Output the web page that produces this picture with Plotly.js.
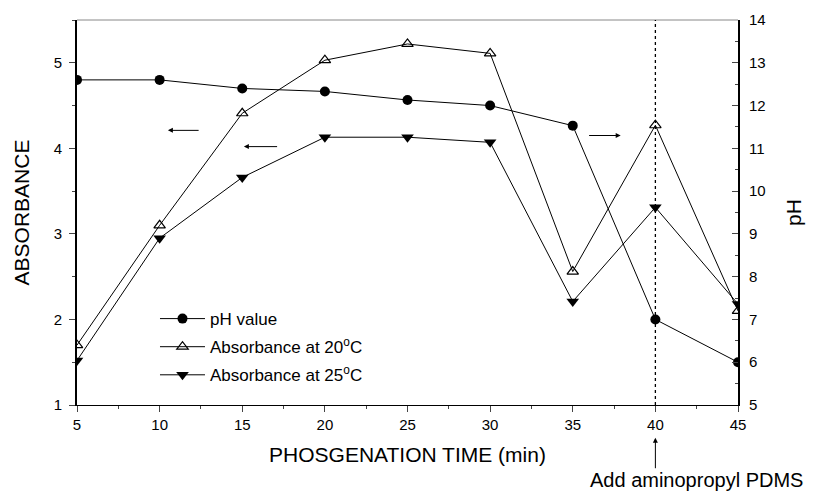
<!DOCTYPE html>
<html>
<head>
<meta charset="utf-8">
<script src="https://cdn.plot.ly/plotly-3.0.1.min.js"></script>
<style>
  html, body { margin: 0; padding: 0; background: #fff; }
  #chart { width: 813px; height: 494px; }
</style>
</head>
<body>
<div id="chart"></div>
<script>
// Phosgenation time (min)
const timeMin = [5, 10, 15, 20, 25, 30, 35, 40, 45];
// pH of the reaction mixture (right axis)
const phValue = [12.6, 12.6, 12.4, 12.33, 12.13, 12.0, 11.53, 7.0, 6.0];
// Absorbance readings (left axis)
const abs20C = [1.7, 3.1, 4.41, 5.03, 5.22, 5.11, 2.56, 4.27, 2.1];
const abs25C = [1.52, 2.95, 3.66, 4.13, 4.13, 4.07, 2.21, 3.31, 2.18];

const xTicks = [5, 10, 15, 20, 25, 30, 35, 40, 45];
const leftTicks = [1, 2, 3, 4, 5];
const rightTicks = [5, 6, 7, 8, 9, 10, 11, 12, 13, 14];

const FONT = "Liberation Sans, Arial, sans-serif";
const lineStyle = { color: "#000", width: 1 };

const traces = [
  {
    name: "pH value", x: timeMin, y: phValue, yaxis: "y2", legendgroup: "a",
    mode: "lines+markers", line: lineStyle,
    marker: { symbol: "circle", size: 10, color: "#000" }
  },
  {
    name: "Absorbance at 20<sup>o</sup>C", x: timeMin, y: abs20C, legendgroup: "b",
    mode: "lines+markers", line: lineStyle,
    marker: { symbol: "triangle-up-open", size: 10, color: "#000", line: { width: 1.2, color: "#000" } }
  },
  {
    name: "Absorbance at 25<sup>o</sup>C", x: timeMin, y: abs25C, legendgroup: "c",
    mode: "lines+markers", line: lineStyle,
    marker: { symbol: "triangle-down", size: 11, color: "#000" }
  }
];

const arrowDefaults = {
  xref: "x", yref: "y", axref: "x", ayref: "y",
  showarrow: true, arrowhead: 2, arrowsize: 1, arrowwidth: 1,
  arrowcolor: "#000", text: ""
};

const layout = {
  width: 813, height: 494,
  margin: { l: 77, r: 75, t: 20, b: 89 },
  paper_bgcolor: "#fff", plot_bgcolor: "#fff",
  font: { family: FONT, color: "#000", size: 15 },
  showlegend: true,
  legend: {
    x: 0.118, y: 0.27, xanchor: "left", yanchor: "top",
    bgcolor: "rgba(0,0,0,0)", font: { family: FONT, size: 17 },
    traceorder: "grouped", tracegroupgap: 3, itemwidth: 45
  },
  xaxis: {
    range: [5, 45], tickvals: xTicks, ticks: "outside", ticklen: 6,
    tickwidth: 1, showline: true, linecolor: "#000", linewidth: 1,
    showgrid: false, zeroline: false,
    minor: { dtick: 2.5, tick0: 5, ticks: "outside", ticklen: 3, showgrid: false },
    tickfont: { size: 15 },
    title: { text: "PHOSGENATION TIME (min)", font: { size: 21 }, standoff: 15 }
  },
  yaxis: {
    range: [1, 5.5], tickvals: leftTicks, ticks: "outside", ticklen: 6,
    showline: true, linecolor: "#000", linewidth: 2,
    showgrid: false, zeroline: false, ticklabelstandoff: 4,
    minor: { dtick: 0.5, tick0: 1, ticks: "outside", ticklen: 3, showgrid: false },
    tickfont: { size: 15 },
    title: { text: "ABSORBANCE", font: { size: 21 }, standoff: 18 }
  },
  yaxis2: {
    overlaying: "y", side: "right",
    range: [5, 14], tickvals: rightTicks, ticks: "inside", ticklen: 6,
    showline: true, linecolor: "#000", linewidth: 2,
    showgrid: false, zeroline: false, ticklabelstandoff: 6,
    minor: { dtick: 0.5, tick0: 5, ticks: "inside", ticklen: 3, showgrid: false },
    tickfont: { size: 15 },
    title: { text: "pH", font: { size: 21 }, standoff: 22 }
  },
  shapes: [
    // top frame edge
    { type: "line", xref: "paper", yref: "paper", x0: 0, x1: 1, y0: 1, y1: 1,
      line: { color: "#888", width: 1 } },
    // aminopropyl PDMS addition time
    { type: "line", xref: "x", yref: "paper", x0: 40, x1: 40, y0: 0, y1: 1,
      line: { color: "#000", width: 1.3, dash: "dot" } }
  ],
  annotations: [
    Object.assign({}, arrowDefaults, { x: 10.5, y: 4.21, ax: 12.45, ay: 4.21 }),
    Object.assign({}, arrowDefaults, { x: 15.1, y: 4.02, ax: 17.2, ay: 4.02 }),
    Object.assign({}, arrowDefaults, { x: 37.9, y: 4.15, ax: 35.9, ay: 4.15 }),
    { xref: "x", yref: "paper", x: 40, y: -0.085, ax: 0, ay: 32,
      showarrow: true, arrowhead: 2, arrowsize: 1, arrowwidth: 1, arrowcolor: "#000",
      text: "" },
    { xref: "x", yref: "paper", x: 42.5, y: -0.228, yanchor: "bottom", showarrow: false,
      text: "Add aminopropyl PDMS", font: { family: FONT, size: 20 } }
  ]
};

Plotly.newPlot("chart", traces, layout, { displayModeBar: false, staticPlot: true });
</script>
</body>
</html>
